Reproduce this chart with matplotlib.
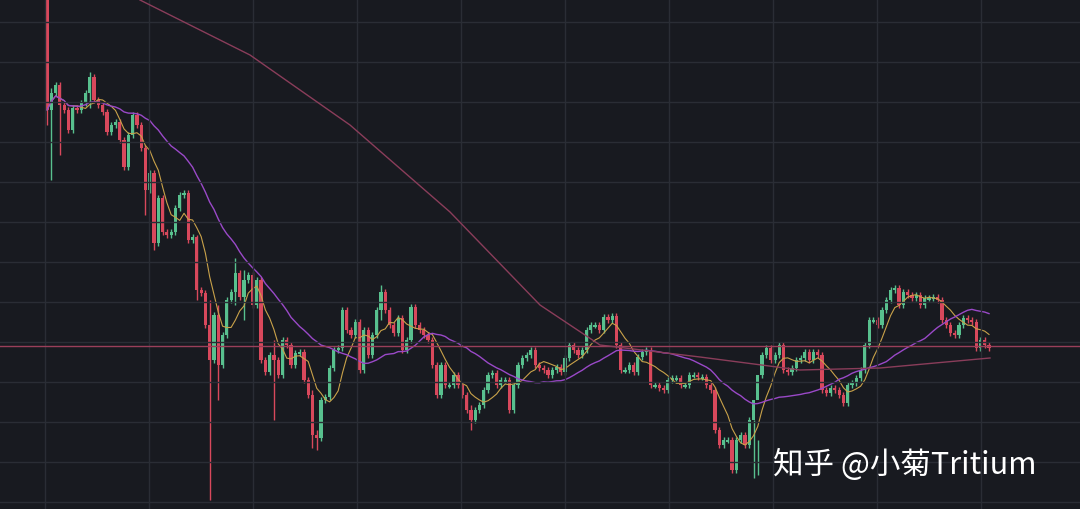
import matplotlib
matplotlib.use("Agg")
import matplotlib.pyplot as plt
import pandas as pd

# chart values (pixel-like price units, larger = lower)
first_open = -5
closes = [
    110, 93, 85, 105, 110, 130, 108, 110, 103, 93, 77, 100, 105, 112, 132, 125, 122, 140, 167, 135,
    115, 125, 148, 190, 173, 243, 198, 232, 235, 232, 208, 195, 193, 240, 237, 290, 293, 325, 360, 315,
    365, 335, 300, 292, 273, 297, 280, 275, 305, 280, 360, 372, 355, 360, 375, 340, 345, 365, 353, 352,
    380, 395, 435, 438, 400, 397, 368, 350, 348, 310,
    330, 335, 322, 370, 330, 355, 335, 310, 292, 310, 325, 333, 318, 350, 340, 307, 325, 330, 335, 340,
    365, 395, 365, 385, 385, 375, 385, 395, 410, 420, 410, 405, 390, 375, 373, 385, 380, 380, 410, 385,
    365, 358, 355, 350, 365, 368, 370, 375, 370, 367, 372, 358, 345, 350, 355, 350, 330, 325, 325, 330,
    317, 320, 316, 345, 370, 370, 365, 372, 357, 352, 350, 385, 385, 388, 390, 380, 378, 378, 385, 385,
    375, 375, 377, 377, 385, 390, 430, 445, 440, 440, 470, 440, 435, 445, 420, 400, 375, 355, 348, 360,
    355, 345, 370, 372, 368, 360, 358, 352, 360, 352, 355, 390, 393, 388, 390, 395, 403, 385, 383, 378,
    370, 345, 320, 320, 325, 310, 300, 290, 288, 305, 292, 295, 298, 295, 305, 298, 298, 297, 300, 320,
    325, 333, 335, 325, 318, 320, 322, 348, 340, 345, 348,
]
# long wicks: candle index -> (high, low)
long_wicks = {
    0: (-5, 125), 1: (88, 180), 3: (82, 155), 10: (72, 108), 23: (145, 215), 25: (170, 250),
    35: (235, 300), 38: (300, 500), 40: (305, 400), 44: (258, 305), 46: (270, 320),
    53: (340, 420), 62: (390, 448), 63: (430, 450), 78: (285, 320), 99: (405, 430),
    165: (420, 478), 166: (440, 475),
}
ma_long_x = [140, 250, 350, 450, 540, 600, 700, 800, 880, 990]
ma_long_y = [0, 55, 125, 212, 305, 345, 357, 370, 368, 358]
last_price = 346

BG = "#181a20"
GREEN = "#58c08e"
RED = "#d8485c"

n = len(closes)
opens = [first_open] + closes[:-1]
x0, x1 = 47, 989
step = (x1 - x0) / (n - 1)

fig = plt.figure(figsize=(10.8, 5.09), dpi=100)
fig.patch.set_facecolor(BG)
ax = fig.add_axes([0, 0, 1, 1])
ax.set_facecolor(BG)
ax.set_xlim(-x0 / step, (1080 - x0) / step)
ax.set_ylim(509, 0)
for s in ax.spines.values():
    s.set_visible(False)
ax.set_xticks([])
ax.set_yticks([])

# grid in pixel space
pix = ax.twiny()
pix.set_xlim(0, 1080)
pix.set_axis_off()
for gx in range(45, 1080, 104):
    pix.axvline(gx, color="#2a2d35", lw=1, zorder=0)
for gy in range(22, 509, 40):
    pix.axhline(gy, color="#2a2d35", lw=1, zorder=0)

for i, (o, c) in enumerate(zip(opens, closes)):
    col = GREEN if c <= o else RED
    hi, lo = long_wicks.get(i, (min(o, c) - 3, max(o, c) + 3))
    ax.vlines(i, hi, lo, color=col, lw=1, zorder=3)
    ax.bar(i, max(abs(c - o), 1.5), bottom=min(o, c), width=0.75, color=col, zorder=4)

cs = pd.Series(closes, dtype=float)
ax.plot(range(n), cs.rolling(7, min_periods=1).mean(), color="#c9a24a", lw=0.8, zorder=5)
ax.plot(range(n), cs.rolling(25, min_periods=1).mean(), color="#9a49c8", lw=1.0, zorder=5)
pix.plot(ma_long_x, ma_long_y, color="#8a3d5a", lw=1.0, zorder=5)
pix.axhline(last_price, color="#9a3f5a", lw=1, zorder=2)

fig.text(0.716, 0.068, "知乎 @小菊Tritium", color="white", fontsize=22,
         family=["Noto Sans CJK SC", "DejaVu Sans"], zorder=10)

fig.savefig("out.png", dpi=100, facecolor=BG)
